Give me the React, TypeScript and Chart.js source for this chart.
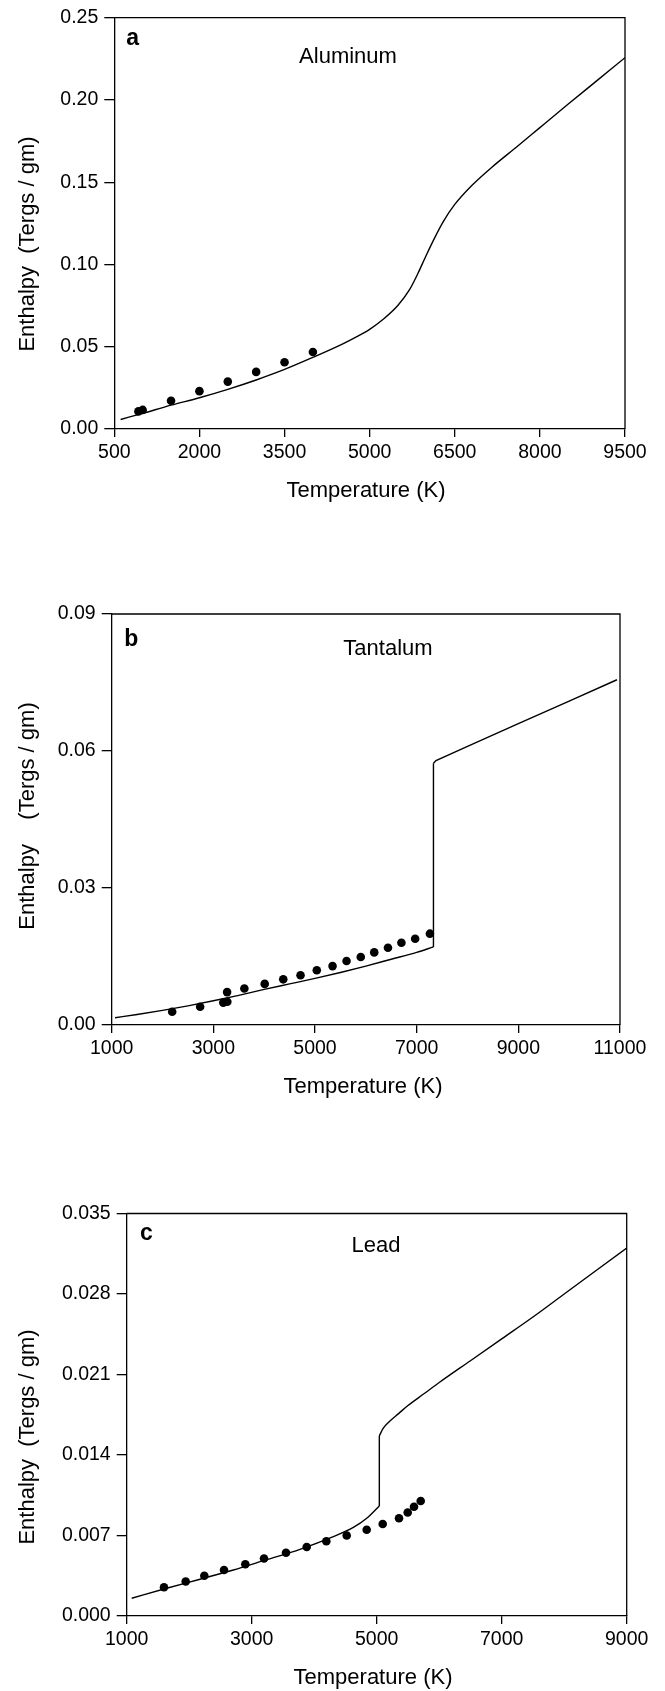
import React, { useEffect, useRef } from 'react';
import { Chart, registerables } from 'chart.js';

Chart.register(...registerables);

// ---------- Panel a: Aluminum ----------
const alCurveT = [612, 1000, 1500, 2000, 2500, 3000, 3500, 4000, 4250, 4500, 4750, 5000, 5250, 5500, 5700, 5850, 6000, 6150, 6300, 6500, 6800, 7150, 7600, 8000, 8500, 9000, 9500];
const alCurveH = [0.0058, 0.0095, 0.0145, 0.019, 0.0241, 0.0298, 0.0362, 0.0435, 0.0473, 0.0513, 0.0557, 0.0606, 0.067, 0.0752, 0.0845, 0.0945, 0.1058, 0.1165, 0.1262, 0.1365, 0.148, 0.159, 0.1717, 0.1832, 0.1975, 0.2116, 0.2257];
const alDotT = [925, 1000, 1500, 2000, 2500, 3000, 3500, 4000];
const alDotH = [0.0107, 0.0116, 0.0172, 0.023, 0.0288, 0.0347, 0.0406, 0.0468];
const alXTicks = [500, 2000, 3500, 5000, 6500, 8000, 9500];
const alYTicks = [0, 0.05, 0.1, 0.15, 0.2, 0.25];

// ---------- Panel b: Tantalum ----------
const taLowT = [1066, 1500, 2000, 2500, 3000, 3500, 4000, 4500, 5000, 5500, 6000, 6500, 7000, 7330];
const taLowH = [0.0016, 0.0023, 0.0032, 0.0042, 0.0053, 0.0065, 0.0078, 0.009, 0.0102, 0.0115, 0.0129, 0.0144, 0.0159, 0.0171];
const taHighT = [7330, 7380, 8000, 9000, 10000, 10940];
const taHighH = [0.0573, 0.0579, 0.061, 0.066, 0.0709, 0.0756];
const taDotT = [2190, 2740, 3195, 3275, 3270, 3610, 4010, 4375, 4715, 5035, 5345, 5620, 5900, 6165, 6435, 6700, 6970, 7260];
const taDotH = [0.0029, 0.004, 0.0049, 0.0051, 0.0072, 0.008, 0.009, 0.01, 0.0109, 0.012, 0.0129, 0.014, 0.0149, 0.0159, 0.0169, 0.018, 0.0189, 0.02];
const taXTicks = [1000, 3000, 5000, 7000, 9000, 11000];
const taYTicks = [0, 0.03, 0.06, 0.09];

// ---------- Panel c: Lead ----------
const pbLowT = [1080, 1640, 2173, 2706, 3240, 3773, 4306, 4626, 4840, 5042];
const pbLowH = [0.00154, 0.00241, 0.0032, 0.004, 0.0049, 0.0058, 0.0069, 0.0077, 0.0085, 0.00957];
const pbHighT = [5042, 5100, 5200, 5350, 5500, 5750, 6000, 6500, 7000, 7500, 8000, 8500, 9000];
const pbHighH = [0.01565, 0.0163, 0.0169, 0.0176, 0.0183, 0.0193, 0.0203, 0.0222, 0.0241, 0.026, 0.028, 0.03, 0.032];
const pbDotT = [1597, 1944, 2242, 2557, 2898, 3197, 3549, 3880, 4194, 4520, 4840, 5096, 5357, 5496, 5597, 5704];
const pbDotH = [0.0025, 0.003, 0.0035, 0.004, 0.0045, 0.005, 0.0055, 0.006, 0.0065, 0.007, 0.0075, 0.008, 0.0085, 0.009, 0.0095, 0.01];
const pbXTicks = [1000, 3000, 5000, 7000, 9000];
const pbYTicks = [0, 0.007, 0.014, 0.021, 0.028, 0.035];

const FONT = '"Liberation Sans", Arial, Helvetica, sans-serif';

const toPts = (xs: number[], ys: number[]) => xs.map((x, i) => ({ x, y: ys[i] }));

const framePlugin = {
  id: 'frame',
  afterDraw(chart: any, _args: any, o: any) {
    const { ctx, chartArea } = chart;
    const { left, right, top, bottom } = chartArea;
    ctx.save();
    ctx.strokeStyle = '#000';
    ctx.lineWidth = 1.3;
    ctx.beginPath();
    ctx.moveTo(left, top);
    ctx.lineTo(right, top);
    ctx.lineTo(right, bottom);
    ctx.stroke();
    ctx.fillStyle = '#000';
    ctx.textBaseline = 'alphabetic';
    ctx.font = 'bold 23px ' + FONT;
    ctx.textAlign = 'left';
    ctx.fillText(o.letter, left + o.letterDx, top + o.letterDy);
    ctx.font = '22px ' + FONT;
    ctx.textAlign = 'center';
    ctx.fillText(o.name, left + o.nameDx, top + o.nameDy);
    ctx.fillText('Temperature (K)', o.xTitleX, bottom + o.xTitleDy);
    ctx.translate(o.yTitleX, o.yTitleY);
    ctx.rotate(-Math.PI / 2);
    ctx.fillText(o.yTitle, 0, 0);
    ctx.restore();
  },
};

type Segment = { t: number[]; h: number[]; smooth: boolean };

type Panel = {
  top: number;
  height: number;
  padTop: number;
  padRight: number;
  yWidth: number;
  xHeight: number;
  segments: Segment[];
  dotT: number[];
  dotH: number[];
  xTicks: number[];
  yTicks: number[];
  yDecimals: number;
  frame: any;
};

const panels: Panel[] = [
  {
    top: 0, height: 560, padTop: 17.5, padRight: 40, yWidth: 114.3, xHeight: 131,
    segments: [{ t: alCurveT, h: alCurveH, smooth: true }], dotT: alDotT, dotH: alDotH,
    xTicks: alXTicks, yTicks: alYTicks, yDecimals: 2,
    frame: { letter: 'a', letterDx: 12, letterDy: 27.5, name: 'Aluminum', nameDx: 233.7, nameDy: 45.5, xTitleX: 366, xTitleDy: 68, yTitle: 'Enthalpy  (Tergs / gm)', yTitleX: 34, yTitleY: 244 },
  },
  {
    top: 560, height: 560, padTop: 54, padRight: 45, yWidth: 111.7, xHeight: 95,
    segments: [{ t: taLowT, h: taLowH, smooth: true }, { t: taHighT, h: taHighH, smooth: false }], dotT: taDotT, dotH: taDotH,
    xTicks: taXTicks, yTicks: taYTicks, yDecimals: 2,
    frame: { letter: 'b', letterDx: 12.5, letterDy: 32, name: 'Tantalum', nameDx: 276.3, nameDy: 41, xTitleX: 363, xTitleDy: 68, yTitle: 'Enthalpy    (Tergs / gm)', yTitleX: 34, yTitleY: 256 },
  },
  {
    top: 1120, height: 571, padTop: 93.5, padRight: 38.3, yWidth: 126.7, xHeight: 75,
    segments: [{ t: pbLowT, h: pbLowH, smooth: true }, { t: pbHighT, h: pbHighH, smooth: true }], dotT: pbDotT, dotH: pbDotH,
    xTicks: pbXTicks, yTicks: pbYTicks, yDecimals: 3,
    frame: { letter: 'c', letterDx: 13.3, letterDy: 26, name: 'Lead', nameDx: 249.3, nameDy: 38.5, xTitleX: 373, xTitleDy: 68, yTitle: 'Enthalpy  (Tergs / gm)', yTitleX: 34, yTitleY: 317 },
  },
];

const lineStyle = {
  showLine: true,
  borderColor: '#000',
  borderWidth: 1.4,
  pointRadius: 0,
  fill: false,
};

function PanelChart({ p }: { p: Panel }) {
  const ref = useRef<HTMLCanvasElement | null>(null);
  useEffect(() => {
    if (!ref.current) return;
    const xs = p.xTicks;
    const ys = p.yTicks;
    const datasets: any[] = [];
    p.segments.forEach((s) => {
      datasets.push(
        s.smooth
          ? { ...lineStyle, data: toPts(s.t, s.h), tension: 0.4, cubicInterpolationMode: 'monotone' }
          : { ...lineStyle, data: toPts(s.t, s.h), tension: 0 }
      );
    });
    // vertical jumps between consecutive segments (straight)
    for (let i = 0; i + 1 < p.segments.length; i++) {
      const a = p.segments[i];
      const b = p.segments[i + 1];
      datasets.push({
        ...lineStyle,
        tension: 0,
        data: [
          { x: a.t[a.t.length - 1], y: a.h[a.h.length - 1] },
          { x: b.t[0], y: b.h[0] },
        ],
      });
    }
    datasets.push({
      data: toPts(p.dotT, p.dotH),
      showLine: false,
      pointRadius: 4.3,
      pointBackgroundColor: '#000',
      pointBorderWidth: 0,
      backgroundColor: '#000',
    });
    const chart = new Chart(ref.current, {
      type: 'scatter',
      data: { datasets },
      options: {
        responsive: false,
        animation: false,
        devicePixelRatio: 1,
        layout: { padding: { top: p.padTop, right: p.padRight, left: 0, bottom: 0 } },
        plugins: {
          legend: { display: false },
          tooltip: { enabled: false },
          frame: p.frame,
        } as any,
        scales: {
          x: {
            type: 'linear',
            min: xs[0],
            max: xs[xs.length - 1],
            afterBuildTicks: (s: any) => { s.ticks = xs.map((v) => ({ value: v })); },
            afterFit: (s: any) => { s.height = p.xHeight; },
            ticks: {
              color: '#000',
              font: { family: FONT, size: 19.5 },
              padding: 4,
              maxRotation: 0,
              autoSkip: false,
              callback: (v: any) => String(v),
            },
            grid: { display: true, drawOnChartArea: false, drawTicks: true, tickLength: 8, color: '#000', lineWidth: 1.3 },
            border: { display: true, color: '#000', width: 1.3 },
          },
          y: {
            type: 'linear',
            min: ys[0],
            max: ys[ys.length - 1],
            afterBuildTicks: (s: any) => { s.ticks = ys.map((v) => ({ value: v })); },
            afterFit: (s: any) => { s.width = p.yWidth; },
            ticks: {
              color: '#000',
              font: { family: FONT, size: 19.5 },
              padding: 6,
              autoSkip: false,
              callback: (v: any) => Number(v).toFixed(p.yDecimals),
            },
            grid: { display: true, drawOnChartArea: false, drawTicks: true, tickLength: 10, color: '#000', lineWidth: 1.3 },
            border: { display: true, color: '#000', width: 1.3 },
          },
        },
      } as any,
      plugins: [framePlugin as any],
    });
    return () => chart.destroy();
  }, [p]);
  return (
    <canvas
      ref={ref}
      width={665}
      height={p.height}
      style={{ position: 'absolute', left: 0, top: p.top, width: 665, height: p.height, display: 'block' }}
    />
  );
}

export default function App() {
  return (
    <div style={{ position: 'absolute', left: 0, top: 0, width: 665, height: 1691, background: '#fff' }}>
      {panels.map((p, i) => (
        <PanelChart key={i} p={p} />
      ))}
    </div>
  );
}
